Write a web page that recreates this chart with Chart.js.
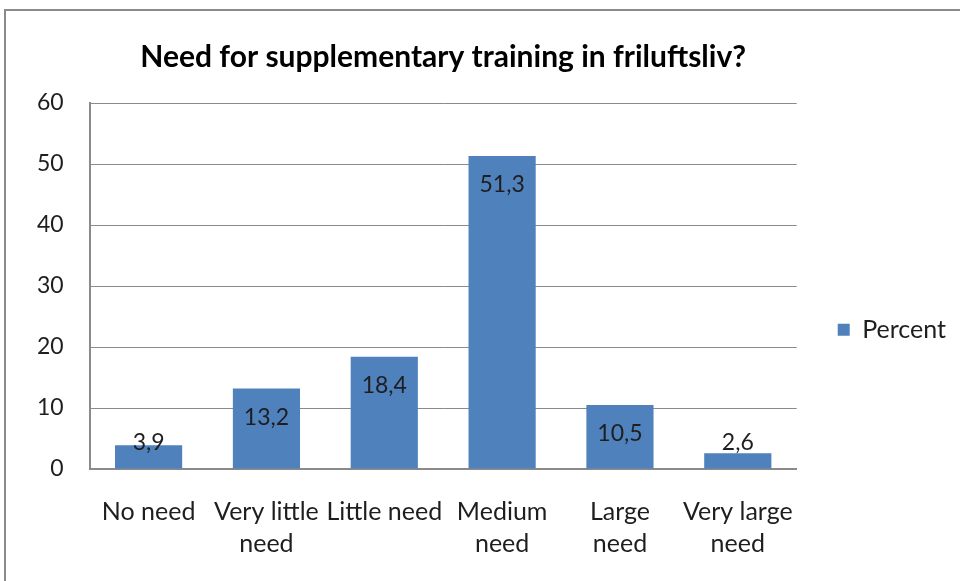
<!DOCTYPE html>
<html>
<head>
<meta charset="utf-8">
<script src="https://cdn.jsdelivr.net/npm/chart.js@4"></script>
<style>
  body { margin: 0; overflow: hidden; background: #fff; }
  #frame { position: absolute; left: 4px; top: 9px; width: 1100px; height: 700px; border: 2px solid #8a8a8a; }
  #wrap { position: absolute; left: 6px; top: 11px; width: 950px; height: 576px; }
</style>
</head>
<body>
<div id="frame"></div>
<div id="wrap"><canvas id="myChart"></canvas></div>
<script>
"use strict";

const categories = [["No need"], ["Very little", "need"], ["Little need"], ["Medium", "need"], ["Large", "need"], ["Very large", "need"]];
const percent = [3.9, 13.2, 18.4, 51.3, 10.5, 2.6];
const yMin = 0;
const yMax = 60;
const yStep = 10;

const ctx = document.getElementById("myChart");

Chart.defaults.font.family = "Lato";
Chart.defaults.color = "#1e1e1e";

// values written inside the top of each bar, comma decimals like the original
const barLabels = {
    id: "barLabels",
    afterDatasetsDraw(chart) {
        const c = chart.ctx;
        const meta = chart.getDatasetMeta(0);
        c.save();
        c.font = "23px Lato";
        c.fillStyle = "#1e1e1e";
        c.textAlign = "center";
        c.textBaseline = "middle";
        meta.data.forEach((bar, i) => {
            const y = Math.min(bar.y + 29, bar.base - 26);
            c.fillText(percent[i].toFixed(1).replace(".", ","), bar.x, y);
        });
        c.restore();
    }
};

const myChart = new Chart(ctx, {
    type: "bar",
    data: {
        labels: categories,
        datasets: [
            {
                label: "Percent",
                data: percent,
                backgroundColor: "#4f81bd",
                borderWidth: 0,
                categoryPercentage: 1,
                barPercentage: 0.57
            }
        ]
    },
    options: {
        responsive: true,
        maintainAspectRatio: false,
        animation: false,
        layout: {
            padding: { left: 5, right: 0, top: 0, bottom: 0 }
        },
        plugins: {
            title: {
                display: true,
                text: "Need for supplementary training in friluftsliv?",
                fullSize: false,
                color: "#000",
                font: { size: 30, weight: "bold" },
                padding: { top: 28, bottom: 28 }
            },
            legend: {
                position: "right",
                title: { display: true, text: " ", font: { size: 23 }, padding: { top: 0, bottom: 34 } },
                labels: {
                    boxWidth: 12,
                    boxHeight: 12,
                    padding: 41,
                    font: { size: 25 },
                    color: "#1e1e1e"
                }
            },
            tooltip: { enabled: false }
        },
        scales: {
            x: {
                grid: { display: false, drawTicks: false },
                border: { display: true, color: "#8a8a8a", width: 2 },
                ticks: {
                    padding: 27,
                    maxRotation: 0,
                    autoSkip: false,
                    font: { size: 25, lineHeight: 1.28 }
                }
            },
            y: {
                min: yMin,
                max: yMax,
                grid: { color: "#8a8a8a", lineWidth: 1, drawTicks: false },
                border: { display: true, color: "#8a8a8a", width: 2 },
                ticks: {
                    stepSize: yStep,
                    padding: 26,
                    font: { size: 23 }
                }
            }
        }
    },
    plugins: [barLabels]
});
</script>
</body>
</html>
